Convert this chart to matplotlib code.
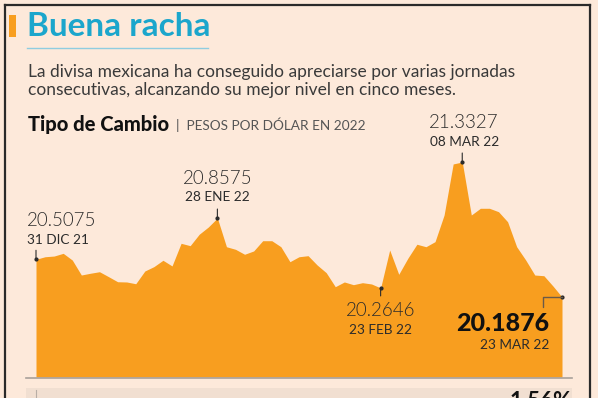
import numpy as np
import matplotlib
matplotlib.use("Agg")
import matplotlib.pyplot as plt
from matplotlib.lines import Line2D
from matplotlib.patches import Rectangle

# tipo de cambio diario, 31 dic 21 - 23 mar 22 (pesos por dolar)
tipo_cambio = [
    20.5075, 20.529, 20.535, 20.558, 20.501, 20.374, 20.389, 20.402, 20.360, 20.317,
    20.315, 20.300, 20.408, 20.445, 20.499, 20.451, 20.643, 20.623, 20.720, 20.781,
    20.8575, 20.614, 20.592, 20.550, 20.578, 20.665, 20.665, 20.614, 20.487, 20.529,
    20.538, 20.459, 20.394, 20.275, 20.315, 20.292, 20.309, 20.298, 20.2646, 20.586,
    20.380, 20.516, 20.635, 20.614, 20.657, 20.883, 21.316, 21.3327, 20.883, 20.940,
    20.940, 20.911, 20.826, 20.614, 20.501, 20.374, 20.368, 20.281, 20.1876,
]
# (indice, fecha etiqueta)
destacados = [(0, "31 DIC 21"), (20, "28 ENE 22"), (47, "08 MAR 22"), (38, "23 FEB 22"), (58, "23 MAR 22")]
variacion = "1.56%"

W, H = 598, 398
bg = "#fde9da"
naranja = "#f89e1f"
azul = "#1ba6cc"
texto = "#2b2b2b"
plt.rcParams["font.family"] = ["Lato", "DejaVu Sans"]

fig = plt.figure(figsize=(W / 100, H / 100), dpi=100)
fig.patch.set_facecolor(bg)


def fx(px):
    return px / W


def fy(py):
    return 1 - py / H


# marco
for xs, ys in [([5, 5], [5, 400]), ([5, 590], [5, 5]), ([590, 590], [5, 400])]:
    fig.add_artist(Line2D([fx(x) for x in xs], [fy(y) for y in ys], color="#2a2a2a", lw=1.6))

# encabezado
fig.add_artist(Rectangle((fx(9), fy(37)), fx(7), 22 / H, color=naranja, lw=0))
fig.text(fx(27), fy(27), "Buena racha", fontsize=24, weight="bold", color=azul, va="center")
fig.add_artist(Line2D([fx(27), fx(208)], [fy(48), fy(48)], color="#8fcde0", lw=1))
fig.text(fx(28), fy(72), "La divisa mexicana ha conseguido apreciarse por varias jornadas",
         fontsize=12.5, color="#3a3a3a", va="center")
fig.text(fx(28), fy(90), "consecutivas, alcanzando su mejor nivel en cinco meses.",
         fontsize=12.5, color="#3a3a3a", va="center")
fig.text(fx(28), fy(125), "Tipo de Cambio", fontsize=14.5, weight="black", color="#111111", va="center")
fig.text(fx(176), fy(125), "|  PESOS POR DÓLAR EN 2022", fontsize=9.8, color="#555555", va="center")

# area
ax = fig.add_axes([fx(36), fy(377), fx(562) - fx(36), (377 - 100) / H])
ax.set_facecolor("none")
x = np.arange(len(tipo_cambio))
ax.fill_between(x, tipo_cambio, 19.509, color=naranja, lw=0)
ax.set_xlim(0, len(tipo_cambio) - 1)
ax.set_ylim(19.509, 21.8586)
ax.axis("off")

# linea base y franja inferior
fig.add_artist(Line2D([fx(26), fx(572)], [fy(378), fy(378)], color="#a8a09a", lw=1.2))
fig.add_artist(Rectangle((fx(26), 0), fx(572) - fx(26), 10 / H, color="#f1dfd1", lw=0))
fig.add_artist(Line2D([fx(36), fx(36)], [0, fy(390)], color="#b8aea6", lw=0.8))
fig.text(fx(572), fy(391), variacion, fontsize=16, weight="bold", color="#111111", ha="right", va="top")

# etiquetas: (dx, dy valor, dy fecha, ha, largo de marca)
estilos = {
    0: (-9, 39, 19, "left", 9),
    20: (0, 40, 21, "center", 9),
    47: (2, 39, 20, "center", 9),
    38: (0, -23, -42, "center", -8),
}
for i, fecha in destacados:
    v = tipo_cambio[i]
    if i in estilos:
        dx, dyv, dyf, ha, m = estilos[i]
        ax.annotate(f"{v:.4f}", xy=(i, v), xytext=(dx, dyv), textcoords="offset pixels",
                    ha=ha, va="center", fontsize=13.5, weight=300, color=texto, annotation_clip=False)
        ax.annotate(fecha, xy=(i, v), xytext=(dx, dyf), textcoords="offset pixels",
                    ha=ha, va="center", fontsize=9.8, color=texto, annotation_clip=False)
        ax.annotate("", xy=(i, v), xytext=(0, m), textcoords="offset pixels", annotation_clip=False,
                    arrowprops=dict(arrowstyle="-", lw=0.8, color=texto, shrinkA=0, shrinkB=0))
    else:
        ax.annotate(f"{v:.4f}", xy=(i, v), xytext=(-13, -27), textcoords="offset pixels",
                    ha="right", va="center", fontsize=18, weight="black", color="#111111",
                    annotation_clip=False)
        ax.annotate(fecha, xy=(i, v), xytext=(-13, -48), textcoords="offset pixels",
                    ha="right", va="center", fontsize=9.8, color=texto, annotation_clip=False)
        ax.annotate("", xy=(i, v), xytext=(-19, -10), textcoords="offset pixels", annotation_clip=False,
                    arrowprops=dict(arrowstyle="-", lw=1, color="#6b5a48", shrinkA=0, shrinkB=0,
                                    connectionstyle="angle,angleA=90,angleB=0,rad=0"))
    ax.plot(i, v, "o", ms=2, color=texto, clip_on=False)

fig.savefig("out.png", dpi=100, facecolor=bg)
